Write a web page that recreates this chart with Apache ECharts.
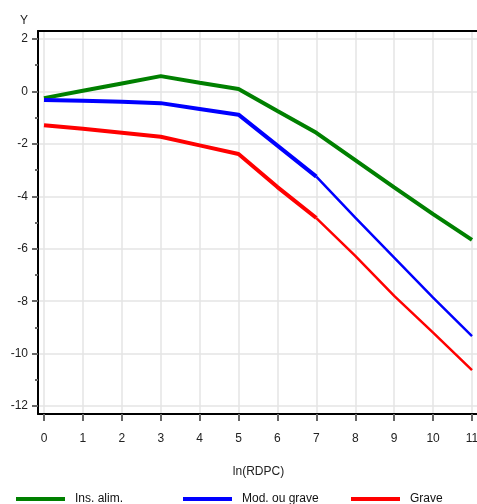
<!DOCTYPE html>
<html>
<head>
<meta charset="utf-8">
<script src="https://cdn.jsdelivr.net/npm/echarts@6/dist/echarts.min.js"></script>
<style>
  html, body { margin: 0; padding: 0; background: #fff; }
  #chart { width: 477px; height: 504px; }
</style>
</head>
<body>
<div id="chart"></div>
<script>
// données
const xValues = [0, 1, 2, 3, 4, 5, 6, 7, 8, 9, 10, 11];
const insAlim = [-0.26, 0.02, 0.30, 0.58, 0.33, 0.09, -0.75, -1.58, -2.62, -3.66, -4.68, -5.66];
const modGrave = [-0.33, -0.36, -0.40, -0.45, -0.67, -0.89, -2.07, -3.25, -4.81, -6.34, -7.86, -9.33];
const grave = [-1.29, -1.43, -1.58, -1.73, -2.06, -2.39, -3.65, -4.83, -6.27, -7.80, -9.20, -10.63];
const yTicks = [-12, -10, -8, -6, -4, -2, 0, 2];
const yMinorTicks = [-11, -9, -7, -5, -3, -1, 1];
const names = ['Ins. alim.', 'Mod. ou grave', 'Grave'];
const colors = ['#008000', '#0000ff', '#ff0000'];

const chart = echarts.init(document.getElementById('chart'));

function pairs(vals, from, to) {
  const out = [];
  for (let i = from; i <= to; i++) out.push([xValues[i], vals[i]]);
  return out;
}

function lineSeries(name, color, data, width) {
  return {
    name: name,
    type: 'line',
    data: data,
    showSymbol: false,
    symbol: 'none',
    lineStyle: { color: color, width: width },
    itemStyle: { color: color },
    z: 3
  };
}

function legendAt(left, name) {
  return {
    left: left,
    top: 493,
    padding: 0,
    itemWidth: 49,
    itemHeight: 4,
    icon: 'rect',
    data: [name],
    textStyle: { color: '#111', fontSize: 12, fontFamily: 'Liberation Sans', padding: [0, 0, 0, 5] }
  };
}

const option = {
  animation: false,
  textStyle: { fontFamily: 'Liberation Sans' },
  grid: {
    left: 38, right: -2, top: 31, bottom: 90,
    outerBoundsMode: 'none',
    containLabel: false
  },
  legend: [legendAt(16, names[0]), legendAt(183, names[1]), legendAt(351, names[2])],
  xAxis: [{
    type: 'value',
    min: -0.154,
    max: 11.18,
    name: 'ln(RDPC)',
    nameLocation: 'middle',
    nameGap: 52,
    nameTextStyle: { color: '#222', fontSize: 12 },
    axisLine: { show: true, onZero: false, lineStyle: { color: '#000', width: 2 } },
    axisTick: { show: true, length: 7, customValues: xValues, lineStyle: { color: '#666', width: 2 } },
    axisLabel: { customValues: xValues, margin: 19, color: '#222', fontSize: 12 },
    splitLine: { show: true, lineStyle: { color: '#e4e4e4', width: 1.5 } }
  }, {
    // ligne du haut du cadre
    type: 'value',
    position: 'top',
    min: -0.154,
    max: 11.18,
    axisLine: { show: true, onZero: false, lineStyle: { color: '#000', width: 2 } },
    axisTick: { show: false },
    axisLabel: { show: false },
    splitLine: { show: false }
  }],
  yAxis: [{
    type: 'value',
    min: -12.3,
    max: 2.3,
    name: 'Y',
    nameLocation: 'end',
    nameGap: 4,
    nameTextStyle: { color: '#222', fontSize: 12, align: 'right', padding: [0, 10, 0, 0] },
    axisLine: { show: true, onZero: false, lineStyle: { color: '#000', width: 2 } },
    axisTick: { show: true, length: 6, customValues: yTicks, lineStyle: { color: '#666', width: 2 } },
    axisLabel: { customValues: yTicks, margin: 10, color: '#222', fontSize: 12 },
    splitLine: { show: true, lineStyle: { color: '#e4e4e4', width: 1.5 } }
  }, {
    type: 'value',
    position: 'left',
    min: -12.3,
    max: 2.3,
    axisLine: { show: false, onZero: false },
    axisTick: { show: true, length: 3, customValues: yMinorTicks, lineStyle: { color: '#666', width: 2 } },
    axisLabel: { show: false },
    splitLine: { show: false }
  }],
  series: [
    lineSeries(names[0], colors[0], pairs(insAlim, 0, 11), 4),
    lineSeries(names[1], colors[1], pairs(modGrave, 0, 7), 4),
    lineSeries(names[1], colors[1], pairs(modGrave, 7, 11), 2.5),
    lineSeries(names[2], colors[2], pairs(grave, 0, 7), 4),
    lineSeries(names[2], colors[2], pairs(grave, 7, 11), 2.5)
  ]
};

chart.setOption(option);
</script>
</body>
</html>
